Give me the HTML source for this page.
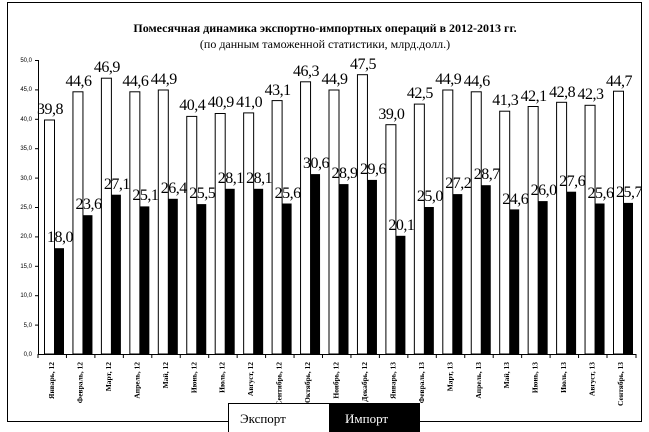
<!DOCTYPE html>
<html><head><meta charset="utf-8"><style>
html,body{margin:0;padding:0;background:#fff;}
svg{display:block;}
.v{font-family:"Liberation Serif",serif;font-size:16px;text-anchor:middle;fill:#000;letter-spacing:-0.5px}
.x{font-family:"Liberation Serif",serif;font-size:7.5px;font-weight:bold;text-anchor:end}
.y{font-family:"Liberation Sans",sans-serif;font-size:6px;text-anchor:end}
</style></head><body>
<svg width="649" height="432" viewBox="0 0 649 432" xmlns="http://www.w3.org/2000/svg">
<rect x="0" y="0" width="649" height="432" fill="#fff"/>
<rect x="7.5" y="2.5" width="634" height="419" fill="none" stroke="#000" stroke-width="1"/>
<text x="325" y="32" text-anchor="middle" font-family="Liberation Serif,serif" font-size="12" font-weight="bold">Помесячная динамика экспортно-импортных операций в 2012-2013 гг.</text>
<text x="325" y="48" text-anchor="middle" font-family="Liberation Serif,serif" font-size="12">(по данным таможенной статистики, млрд.долл.)</text>
<g class="y">
<text x="32" y="62">50,0</text><text x="32" y="91">45,0</text><text x="32" y="121">40,0</text><text x="32" y="150">35,0</text><text x="32" y="180">30,0</text><text x="32" y="209">25,0</text><text x="32" y="238">20,0</text><text x="32" y="268">15,0</text><text x="32" y="297">10,0</text><text x="32" y="327">5,0</text><text x="32" y="356">0,0</text>
</g>
<g stroke="#000" stroke-width="1">
<line x1="38.5" y1="60" x2="38.5" y2="354"/>
<line x1="38" y1="354.5" x2="636" y2="354.5"/>
<line x1="35" y1="60.5" x2="38" y2="60.5"/><line x1="35" y1="89.9" x2="38" y2="89.9"/><line x1="35" y1="119.3" x2="38" y2="119.3"/><line x1="35" y1="148.7" x2="38" y2="148.7"/><line x1="35" y1="178.1" x2="38" y2="178.1"/><line x1="35" y1="207.5" x2="38" y2="207.5"/><line x1="35" y1="236.9" x2="38" y2="236.9"/><line x1="35" y1="266.3" x2="38" y2="266.3"/><line x1="35" y1="295.7" x2="38" y2="295.7"/><line x1="35" y1="325.1" x2="38" y2="325.1"/>
</g>
<g id="bars">
<g transform="translate(38,0)"><rect x="6.5" y="120" width="10" height="234" fill="#fff" stroke="#000"/><rect x="16.5" y="248.2" width="9.5" height="105.8"/><text class="v" x="12" y="114">39,8</text><text class="v" x="22" y="242">18,0</text><line x1="0" y1="354" x2="0" y2="358" stroke="#000"/><text class="x" transform="translate(16,362) rotate(-90)">Январь, 12</text></g>
<g transform="translate(66.45,0)"><rect x="6.5" y="91.8" width="10" height="262.2" fill="#fff" stroke="#000"/><rect x="16.5" y="215.2" width="9.5" height="138.8"/><text class="v" x="12" y="86">44,6</text><text class="v" x="22" y="209">23,6</text><line x1="0" y1="354" x2="0" y2="358" stroke="#000"/><text class="x" transform="translate(16,362) rotate(-90)">Февраль, 12</text></g>
<g transform="translate(94.9,0)"><rect x="6.5" y="78.2" width="10" height="275.8" fill="#fff" stroke="#000"/><rect x="16.5" y="194.7" width="9.5" height="159.3"/><text class="v" x="12" y="72">46,9</text><text class="v" x="22" y="189">27,1</text><line x1="0" y1="354" x2="0" y2="358" stroke="#000"/><text class="x" transform="translate(16,362) rotate(-90)">Март, 12</text></g>
<g transform="translate(123.35,0)"><rect x="6.5" y="91.8" width="10" height="262.2" fill="#fff" stroke="#000"/><rect x="16.5" y="206.4" width="9.5" height="147.6"/><text class="v" x="12" y="86">44,6</text><text class="v" x="22" y="200">25,1</text><line x1="0" y1="354" x2="0" y2="358" stroke="#000"/><text class="x" transform="translate(16,362) rotate(-90)">Апрель, 12</text></g>
<g transform="translate(151.8,0)"><rect x="6.5" y="90" width="10" height="264" fill="#fff" stroke="#000"/><rect x="16.5" y="198.8" width="9.5" height="155.2"/><text class="v" x="12" y="84">44,9</text><text class="v" x="22" y="193">26,4</text><line x1="0" y1="354" x2="0" y2="358" stroke="#000"/><text class="x" transform="translate(16,362) rotate(-90)">Май, 12</text></g>
<g transform="translate(180.25,0)"><rect x="6.5" y="116.4" width="10" height="237.6" fill="#fff" stroke="#000"/><rect x="16.5" y="204.1" width="9.5" height="149.9"/><text class="v" x="12" y="110">40,4</text><text class="v" x="22" y="198">25,5</text><line x1="0" y1="354" x2="0" y2="358" stroke="#000"/><text class="x" transform="translate(16,362) rotate(-90)">Июнь, 12</text></g>
<g transform="translate(208.7,0)"><rect x="6.5" y="113.5" width="10" height="240.5" fill="#fff" stroke="#000"/><rect x="16.5" y="188.8" width="9.5" height="165.2"/><text class="v" x="12" y="107">40,9</text><text class="v" x="22" y="183">28,1</text><line x1="0" y1="354" x2="0" y2="358" stroke="#000"/><text class="x" transform="translate(16,362) rotate(-90)">Июль, 12</text></g>
<g transform="translate(237.15,0)"><rect x="6.5" y="112.9" width="10" height="241.1" fill="#fff" stroke="#000"/><rect x="16.5" y="188.8" width="9.5" height="165.2"/><text class="v" x="12" y="107">41,0</text><text class="v" x="22" y="183">28,1</text><line x1="0" y1="354" x2="0" y2="358" stroke="#000"/><text class="x" transform="translate(16,362) rotate(-90)">Август, 12</text></g>
<g transform="translate(265.6,0)"><rect x="6.5" y="100.6" width="10" height="253.4" fill="#fff" stroke="#000"/><rect x="16.5" y="203.5" width="9.5" height="150.5"/><text class="v" x="12" y="95">43,1</text><text class="v" x="22" y="198">25,6</text><line x1="0" y1="354" x2="0" y2="358" stroke="#000"/><text class="x" transform="translate(16,362) rotate(-90)">Сентябрь, 12</text></g>
<g transform="translate(294.05,0)"><rect x="6.5" y="81.8" width="10" height="272.2" fill="#fff" stroke="#000"/><rect x="16.5" y="174.1" width="9.5" height="179.9"/><text class="v" x="12" y="76">46,3</text><text class="v" x="22" y="168">30,6</text><line x1="0" y1="354" x2="0" y2="358" stroke="#000"/><text class="x" transform="translate(16,362) rotate(-90)">Октябрь, 12</text></g>
<g transform="translate(322.5,0)"><rect x="6.5" y="90" width="10" height="264" fill="#fff" stroke="#000"/><rect x="16.5" y="184.1" width="9.5" height="169.9"/><text class="v" x="12" y="84">44,9</text><text class="v" x="22" y="178">28,9</text><line x1="0" y1="354" x2="0" y2="358" stroke="#000"/><text class="x" transform="translate(16,362) rotate(-90)">Ноябрь, 12</text></g>
<g transform="translate(350.95,0)"><rect x="6.5" y="74.7" width="10" height="279.3" fill="#fff" stroke="#000"/><rect x="16.5" y="179.9" width="9.5" height="174.1"/><text class="v" x="12" y="69">47,5</text><text class="v" x="22" y="174">29,6</text><line x1="0" y1="354" x2="0" y2="358" stroke="#000"/><text class="x" transform="translate(16,362) rotate(-90)">Декабрь, 12</text></g>
<g transform="translate(379.4,0)"><rect x="6.5" y="124.7" width="10" height="229.3" fill="#fff" stroke="#000"/><rect x="16.5" y="235.8" width="9.5" height="118.2"/><text class="v" x="12" y="119">39,0</text><text class="v" x="22" y="230">20,1</text><line x1="0" y1="354" x2="0" y2="358" stroke="#000"/><text class="x" transform="translate(16,362) rotate(-90)">Январь, 13</text></g>
<g transform="translate(407.85,0)"><rect x="6.5" y="104.1" width="10" height="249.9" fill="#fff" stroke="#000"/><rect x="16.5" y="207" width="9.5" height="147"/><text class="v" x="12" y="98">42,5</text><text class="v" x="22" y="201">25,0</text><line x1="0" y1="354" x2="0" y2="358" stroke="#000"/><text class="x" transform="translate(16,362) rotate(-90)">Февраль, 13</text></g>
<g transform="translate(436.3,0)"><rect x="6.5" y="90" width="10" height="264" fill="#fff" stroke="#000"/><rect x="16.5" y="194.1" width="9.5" height="159.9"/><text class="v" x="12" y="84">44,9</text><text class="v" x="22" y="188">27,2</text><line x1="0" y1="354" x2="0" y2="358" stroke="#000"/><text class="x" transform="translate(16,362) rotate(-90)">Март, 13</text></g>
<g transform="translate(464.75,0)"><rect x="6.5" y="91.8" width="10" height="262.2" fill="#fff" stroke="#000"/><rect x="16.5" y="185.2" width="9.5" height="168.8"/><text class="v" x="12" y="86">44,6</text><text class="v" x="22" y="179">28,7</text><line x1="0" y1="354" x2="0" y2="358" stroke="#000"/><text class="x" transform="translate(16,362) rotate(-90)">Апрель, 13</text></g>
<g transform="translate(493.2,0)"><rect x="6.5" y="111.2" width="10" height="242.8" fill="#fff" stroke="#000"/><rect x="16.5" y="209.4" width="9.5" height="144.6"/><text class="v" x="12" y="105">41,3</text><text class="v" x="22" y="204">24,6</text><line x1="0" y1="354" x2="0" y2="358" stroke="#000"/><text class="x" transform="translate(16,362) rotate(-90)">Май, 13</text></g>
<g transform="translate(521.65,0)"><rect x="6.5" y="106.5" width="10" height="247.5" fill="#fff" stroke="#000"/><rect x="16.5" y="201.1" width="9.5" height="152.9"/><text class="v" x="12" y="101">42,1</text><text class="v" x="22" y="195">26,0</text><line x1="0" y1="354" x2="0" y2="358" stroke="#000"/><text class="x" transform="translate(16,362) rotate(-90)">Июнь, 13</text></g>
<g transform="translate(550.1,0)"><rect x="6.5" y="102.3" width="10" height="251.7" fill="#fff" stroke="#000"/><rect x="16.5" y="191.7" width="9.5" height="162.3"/><text class="v" x="12" y="97">42,8</text><text class="v" x="22" y="186">27,6</text><line x1="0" y1="354" x2="0" y2="358" stroke="#000"/><text class="x" transform="translate(16,362) rotate(-90)">Июль, 13</text></g>
<g transform="translate(578.55,0)"><rect x="6.5" y="105.3" width="10" height="248.7" fill="#fff" stroke="#000"/><rect x="16.5" y="203.5" width="9.5" height="150.5"/><text class="v" x="12" y="99">42,3</text><text class="v" x="22" y="198">25,6</text><line x1="0" y1="354" x2="0" y2="358" stroke="#000"/><text class="x" transform="translate(16,362) rotate(-90)">Август, 13</text></g>
<g transform="translate(607,0)"><rect x="6.5" y="91.2" width="10" height="262.8" fill="#fff" stroke="#000"/><rect x="16.5" y="202.9" width="9.5" height="151.1"/><text class="v" x="12" y="86">44,7</text><text class="v" x="22" y="197">25,7</text><line x1="0" y1="354" x2="0" y2="358" stroke="#000"/><line x1="29" y1="354" x2="29" y2="358" stroke="#000"/><text class="x" transform="translate(16,362) rotate(-90)">Сентябрь, 13</text></g>
</g>
<rect x="228.5" y="403.5" width="101" height="30" fill="#fff" stroke="#000"/>
<text x="240" y="423" font-family="Liberation Serif,serif" font-size="13">Экспорт</text>
<rect x="330" y="403" width="90" height="29" fill="#000"/>
<text x="345" y="423" font-family="Liberation Serif,serif" font-size="13" fill="#fff">Импорт</text>
</svg>
</body></html>
